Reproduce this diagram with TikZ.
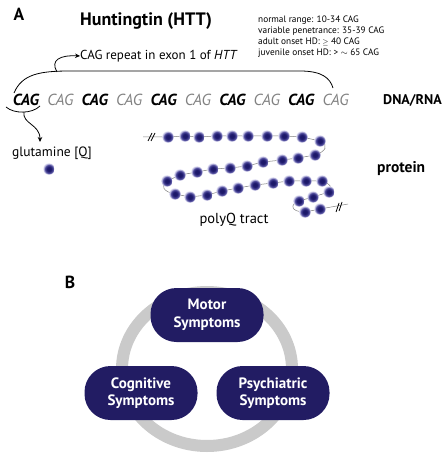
\documentclass[tikz,border=0pt]{standalone}
\usepackage{fontspec}
\setmainfont{PT Sans}
\usetikzlibrary{arrows.meta}
\definecolor{navy}{RGB}{34,28,99}
\definecolor{beadin}{RGB}{28,24,105}
\definecolor{beadmid}{RGB}{70,66,150}
\definecolor{beadout}{RGB}{225,224,245}
\definecolor{caggray}{RGB}{130,130,130}
\definecolor{ringgray}{RGB}{202,202,202}
\pgfdeclareradialshading{beadshade}{\pgfpoint{0cm}{0cm}}{color(0bp)=(beadin); color(8bp)=(beadin); color(17bp)=(beadmid); color(25bp)=(beadout); color(50bp)=(beadout)}
\newcommand{\fs}[1]{\fontsize{#1}{#1}\selectfont}
\tikzset{
  bead/.style={circle, minimum size=11.5pt, inner sep=0pt, shading=beadshade},
  cagb/.style={font=\fs{16}\bfseries\itshape, text=black, inner sep=0pt},
  cagg/.style={font=\fs{16}\itshape, text=caggray, inner sep=0pt},
  symp/.style={fill=navy, text=white, minimum width=113pt, minimum height=54pt, rounded corners=26pt, align=center, font=\fontsize{15}{17.5}\selectfont\bfseries},
  chain/.style={draw=gray, line width=0.5pt},
  lbl/.style={inner sep=0pt},
  info/.style={inner sep=0pt, anchor=west, font=\fs{9.3}},
  arr/.style={line width=0.8pt, -{Stealth[length=5pt,width=4.5pt]}}
}
\begin{document}
\begin{tikzpicture}[x=1pt,y=-1pt]
\useasboundingbox (0,0) rectangle (445,462);
% labels
\node[lbl, font=\fs{17.5}\bfseries] (A) at (19,14) {A};
\node[lbl, anchor=west, font=\fs{18}\bfseries] (title) at (80,21) {Huntingtin (HTT)};
\node[info] (i1) at (258,20.5) {normal range: 10-34 CAG};
\node[info] (i2) at (258,31.2) {variable penetrance: 35-39 CAG};
\node[info] (i3) at (258,41.9) {adult onset HD: $\scriptstyle\geq$ 40 CAG};
\node[info] (i4) at (258,52.8) {juvenile onset HD: > $\sim$ 65 CAG};
\node[lbl, anchor=west, font=\fs{13}] (rep) at (80,56) {CAG repeat in exon 1 of \textit{HTT}};
% CAG row
\foreach \i in {0,...,9}{
  \pgfmathsetmacro{\cx}{26+34.4*\i}
  \ifodd\i
    \node[cagg] (c\i) at (\cx,100) {CAG};
  \else
    \node[cagb] (c\i) at (\cx,100) {CAG};
  \fi
}
\node[lbl, anchor=west, font=\fs{14}\bfseries] (dna) at (383,100) {DNA/RNA};
% bracket over repeat
\coordinate (bl) at (14,93);
\coordinate (br) at (333,88);
\coordinate (bs) at (57,72);
\draw[line width=0.8pt] (bl) .. controls (22,74) and (40,71) .. (70,71) -- (300,71) .. controls (322,71) and (330,78) .. (br);
\draw[arr] (bs) .. controls (50,60) and (60,55) .. (rep.west);
% bracket under first CAG
\coordinate (ul) at (6,107);
\coordinate (ur) at (40,106);
\coordinate (um) at (24,112);
\coordinate (qa) at (40,142);
\draw[line width=0.8pt] (ul) .. controls (14,114) and (32,114) .. (ur);
\node[lbl, font=\fs{13.5}] (glu) at (52,153) {glutamine [Q]};
\node[bead] (q) at (49,169) {};
\draw[arr] (um) .. controls (22,124) and (40,124) .. (qa);
\node[lbl, anchor=west, font=\fs{15.5}\bfseries] (prot) at (377,169) {protein};
\node[lbl, font=\fs{14.5}] (polyq) at (234,220) {polyQ tract};
% polyQ chain
\coordinate (s0) at (143,137);
\coordinate (e0) at (348,204);
\foreach [count=\k] \x/\y in {168/137,185/136,199/137,217/136,232/136,248/136,267/136,284/136,302/137,320/141,
  315/155,298/158,282/160,263/162,247/166,230/168,213/169,197/172,180/175,167/181,
  175/194,190/197,207/195,222/191,238/188,255/185,273/183,289/181,306/181,322/181,
  329/192,313/197,299/201,305/212,320/209}{
  \coordinate (p\k) at (\x,\y);
}
\draw[chain] (s0) -- (p1) -- (p2) -- (p3) -- (p4) -- (p5) -- (p6) -- (p7) -- (p8) -- (p9) -- (p10)
  .. controls (330,145) and (325,152) .. (p11) -- (p12) -- (p13) -- (p14) -- (p15) -- (p16) -- (p17) -- (p18) -- (p19) -- (p20)
  .. controls (160,185) and (163,192) .. (p21) -- (p22) -- (p23) -- (p24) -- (p25) -- (p26) -- (p27) -- (p28) -- (p29) -- (p30)
  .. controls (330,183) and (333,188) .. (p31) -- (p32) -- (p33)
  .. controls (290,204) and (290,212) .. (p34) -- (p35) -- (e0);
\foreach \k in {1,...,35}{ \node[bead] (b\k) at (p\k) {}; }
\draw[line width=0.8pt] (148,141) -- (152,133) (151,141) -- (155,133);
\draw[line width=0.8pt] (336,212) -- (339,203) (339,211) -- (342,202);
% Part B
\node[lbl, font=\fs{17.5}\bfseries] (B) at (70,282) {B};
\draw[ringgray, line width=12pt] (207,369) ellipse [x radius=85pt, y radius=77pt];
\node[symp] (motor) at (207,315) {Motor\\Symptoms};
\node[symp] (cog) at (141,393) {Cognitive\\Symptoms};
\node[symp] (psy) at (273,393) {Psychiatric\\Symptoms};
\end{tikzpicture}
\end{document}
